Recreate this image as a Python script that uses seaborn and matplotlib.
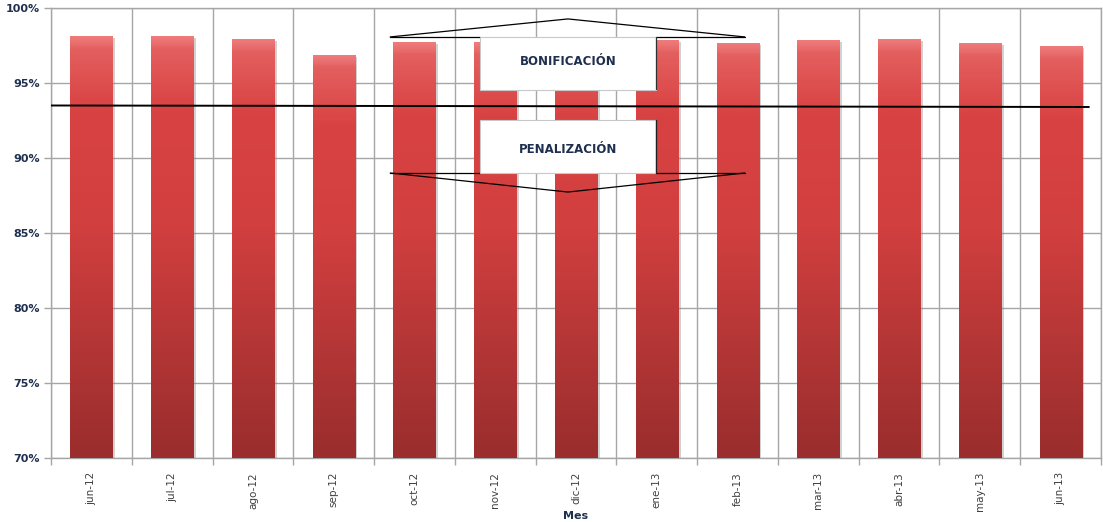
"""Cumplimiento mensual frente al umbral de bonificación / penalización."""

import matplotlib

matplotlib.use("Agg")
import matplotlib.pyplot as plt
import numpy as np
import pandas as pd
import seaborn as sns
from matplotlib.colors import LinearSegmentedColormap
from matplotlib.patches import Polygon, Rectangle

meses = ["jun-12", "jul-12", "ago-12", "sep-12", "oct-12", "nov-12", "dic-12",
         "ene-13", "feb-13", "mar-13", "abr-13", "may-13", "jun-13"]
valores = [98.1, 98.1, 97.9, 96.8, 97.7, 97.7, 97.6,
           97.8, 97.6, 97.8, 97.9, 97.6, 97.4]
umbral = 93.5
y_ticks = [70, 75, 80, 85, 90, 95, 100]

NAVY = "#1f2f4f"
GRID = "#a6a6a6"
Y_MIN, Y_MAX = 70, 100


def main() -> None:
    sns.set_theme(style="white")
    plt.rcParams["font.family"] = ["DejaVu Sans"]

    df = pd.DataFrame({"Mes": meses, "valor": valores})

    fig = plt.figure(figsize=(11.03, 5.22), dpi=100)
    ax = fig.add_axes([0.0462, 0.1226, 0.9520, 0.8621])

    sns.barplot(data=df, x="Mes", y="valor", color="#d04040", width=0.52,
                ax=ax, zorder=3)

    # vertical gradient on every bar (light top edge, darker toward base)
    cmap = LinearSegmentedColormap.from_list(
        "rojo", ["#ee7a7a", "#d94242", "#d23f3f", "#b53636", "#9a2d2d"])
    grad = np.concatenate([np.linspace(0, 0.08, 4), np.linspace(0.12, 1, 150)])
    grad = grad.reshape(-1, 1)
    for p in list(ax.patches):
        x0, w = p.get_x(), p.get_width()
        top = p.get_y() + p.get_height()
        # soft shadow on the right
        ax.add_patch(Rectangle((x0 + 0.02, Y_MIN), w + 0.015, top - Y_MIN - 0.08,
                               facecolor="#808080", alpha=0.35,
                               edgecolor="none", zorder=2.5))
        p.set_visible(False)
        ax.imshow(grad, cmap=cmap, aspect="auto", vmin=0, vmax=1,
                  extent=(x0, x0 + w, Y_MIN, top), zorder=3,
                  interpolation="bilinear")
    ax.set_xlim(-0.5, len(meses) - 0.5)
    ax.set_ylim(Y_MIN, Y_MAX)
    ax.set_aspect("auto")

    # threshold line
    ax.plot([-0.5, 12.35], [umbral, umbral - 0.1], color="black", lw=1.4,
            zorder=4)

    # grid
    ax.set_xticks(np.arange(len(meses)))
    ax.set_xticklabels(meses)
    ax.set_yticks(y_ticks)
    ax.set_yticklabels([f"{t}%" for t in y_ticks])
    ax.set_xticks(np.arange(len(meses) + 1) - 0.5, minor=True)
    ax.grid(axis="y", color=GRID, lw=1, zorder=0)
    ax.grid(axis="x", which="minor", color=GRID, lw=1, zorder=0)
    ax.grid(axis="x", which="major", visible=False)
    ax.set_axisbelow(True)
    for s in ax.spines.values():
        s.set_color(GRID)
        s.set_linewidth(1)

    ax.tick_params(axis="y", which="major", left=True, length=5, width=1,
                   color=GRID, labelsize=8, labelcolor=NAVY, pad=3)
    for lbl in ax.get_yticklabels():
        lbl.set_fontweight("bold")
    ax.tick_params(axis="x", which="major", bottom=False, labelsize=7.5,
                   labelcolor="#404040", rotation=90, pad=4)
    ax.tick_params(axis="x", which="minor", bottom=True, length=5, width=1,
                   color=GRID)
    ax.set_xlabel("Mes", fontsize=8, fontweight="bold", color=NAVY,
                  labelpad=0)
    ax.set_ylabel("")

    # arrows: bonificación (up) / penalización (down)
    zs = 6
    ax.plot([3.70, 5.90, 8.09], [98.07, 99.27, 98.07], color="black",
            lw=0.9, zorder=zs)
    ax.plot([3.70, 4.81], [98.07, 98.07], color="black", lw=0.9, zorder=zs)
    ax.plot([6.99, 8.09], [98.07, 98.07], color="black", lw=0.9, zorder=zs)
    ax.add_patch(Polygon([[4.81, 98.07], [6.99, 98.07], [6.99, 94.53],
                          [4.81, 94.53]], closed=True, facecolor="white",
                         edgecolor="#c8c8c8", lw=0.8, zorder=zs))
    ax.plot([6.99, 6.99], [98.07, 94.6], color="#303030", lw=0.9, zorder=zs)
    ax.text(5.90, 96.45, "BONIFICACIÓN", ha="center", va="center",
            fontsize=8.5, fontweight="bold", color=NAVY, zorder=zs + 1)

    ax.plot([3.70, 5.90, 8.09], [89.0, 87.73, 89.0], color="black",
            lw=0.9, zorder=zs)
    ax.plot([3.70, 4.81], [89.0, 89.0], color="black", lw=0.9, zorder=zs)
    ax.plot([6.99, 8.09], [89.0, 89.0], color="black", lw=0.9, zorder=zs)
    ax.add_patch(Polygon([[4.81, 92.53], [6.99, 92.53], [6.99, 89.0],
                          [4.81, 89.0]], closed=True, facecolor="white",
                         edgecolor="#c8c8c8", lw=0.8, zorder=zs))
    ax.plot([6.99, 6.99], [92.5, 89.0], color="#202020", lw=1.0, zorder=zs)
    ax.text(5.90, 90.55, "PENALIZACIÓN", ha="center", va="center",
            fontsize=8.5, fontweight="bold", color=NAVY, zorder=zs + 1)

    fig.savefig("out.png", dpi=100)


if __name__ == "__main__":
    main()
